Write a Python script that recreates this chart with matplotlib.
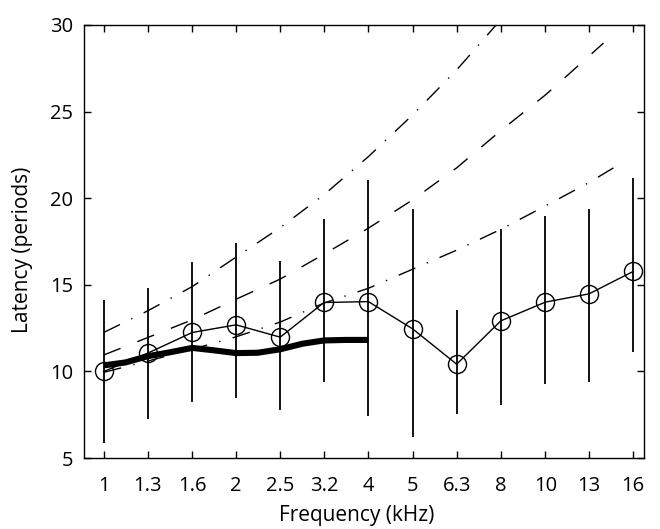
import matplotlib
matplotlib.use("Agg")
import matplotlib.pyplot as plt
import numpy as np

plt.rcParams['font.family'] = ['Open Sans', 'DejaVu Sans']

# 1/3-octave test frequencies (kHz) and their printed labels
freq_khz = [1.0, 1.26, 1.59, 2.0, 2.52, 3.17, 4.0, 5.04, 6.35, 8.0, 10.1, 12.7, 16.0]
freq_labels = ["1", "1.3", "1.6", "2", "2.5", "3.2", "4", "5", "6.3", "8", "10", "13", "16"]

# measured latency (periods): mean and range
lat_mean = [10.0, 11.06, 12.25, 12.69, 11.98, 13.98, 14.03, 12.46, 10.42, 12.92, 14.0, 14.48, 15.77]
lat_low = [5.86, 7.25, 8.23, 8.46, 7.8, 9.42, 7.44, 6.21, 7.54, 8.07, 9.27, 9.38, 11.11]
lat_high = [14.13, 14.84, 16.3, 17.4, 16.35, 18.8, 21.06, 19.38, 13.52, 18.21, 18.98, 19.36, 21.15]

# thick model curve (1 - 4 kHz)
model_f = [1.0, 1.12, 1.26, 1.41, 1.59, 1.78, 2.0, 2.24, 2.52, 2.83, 3.17, 3.56, 4.0]
model_lat = [10.35, 10.52, 10.88, 11.1, 11.36, 11.22, 11.06, 11.08, 11.28, 11.6, 11.79, 11.82, 11.82]

# reference curves
upper_f = [1.0, 1.26, 1.59, 2.0, 2.52, 3.17, 4.0, 5.04, 6.35, 8.0]
upper_lat = [12.25, 13.5, 14.9, 16.6, 18.3, 20.2, 22.4, 24.8, 27.4, 30.3]
mid_f = [1.0, 1.26, 1.59, 2.0, 2.52, 3.17, 4.0, 5.04, 6.35, 8.0, 10.1, 12.7, 13.7]
mid_lat = [10.95, 11.96, 12.98, 14.17, 15.33, 16.77, 18.27, 19.9, 21.75, 23.9, 25.95, 28.2, 28.95]
lower_f = [1.0, 1.26, 1.59, 2.0, 2.52, 3.17, 4.0, 5.04, 6.35, 8.0, 10.1, 12.7, 15.1]
lower_lat = [9.95, 10.6, 11.28, 12.0, 12.85, 13.95, 14.8, 15.9, 17.0, 18.2, 19.55, 20.9, 22.05]

fig = plt.figure(figsize=(6.6, 5.29), dpi=100)
ax = fig.add_axes([0.127, 0.134, 0.849, 0.819])

dashdot = (13, 9, 1, 9)
ax.plot(upper_f, upper_lat, color='black', lw=1.0, dashes=dashdot)
ax.plot(mid_f, mid_lat, color='black', lw=1.0, dashes=(13, 13))
ax.plot(lower_f, lower_lat, color='black', lw=1.0, dashes=dashdot)

ax.vlines(freq_khz, lat_low, lat_high, color='black', lw=1.3)
ax.plot(freq_khz, lat_mean, color='black', lw=1.0, marker='o', markersize=13,
        markerfacecolor='none', markeredgecolor='black', markeredgewidth=1.0)
ax.plot(model_f, model_lat, color='black', lw=4.4, solid_capstyle='butt')

ax.set_xscale('log', base=2)
ax.set_xlim(0.901, 16.95)
ax.set_ylim(5, 30)
ax.set_xticks(freq_khz)
ax.set_xticklabels(freq_labels)
ax.xaxis.set_minor_locator(matplotlib.ticker.NullLocator())
ax.set_yticks([5, 10, 15, 20, 25, 30])

ax.tick_params(direction='in', top=True, right=True, length=5, width=1,
               labelsize=14.5)
ax.tick_params(axis='x', pad=13)
ax.tick_params(axis='y', pad=7.5)
for s in ax.spines.values():
    s.set_linewidth(1.0)

ax.set_xlabel("Frequency (kHz)", fontsize=15)
ax.set_ylabel("Latency (periods)", fontsize=15)
ax.xaxis.set_label_coords(0.487, -0.108)
ax.yaxis.set_label_coords(-0.091, 0.48)

fig.savefig("out.png", dpi=100)
